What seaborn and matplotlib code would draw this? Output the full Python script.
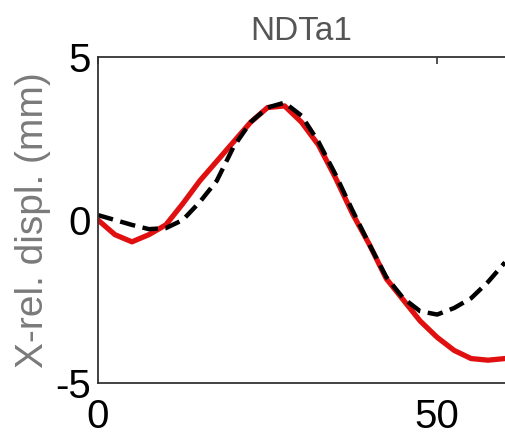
import matplotlib
matplotlib.use("Agg")
import matplotlib.pyplot as plt
import seaborn as sns
import pandas as pd

x_vals = [0, 2.5, 5, 7.5, 10, 12.5, 15, 17.5, 20, 22.5, 25, 27.5, 30, 32.5, 35,
          37.5, 40, 42.5, 45, 47.5, 50, 52.5, 55, 57.5, 60]
red_vals = [0.0, -0.45, -0.67, -0.45, -0.15, 0.5, 1.2, 1.8, 2.4, 3.0, 3.45, 3.5,
            3.0, 2.3, 1.3, 0.2, -0.75, -1.8, -2.45, -3.1, -3.6, -4.0, -4.25, -4.3, -4.25]
black_vals = [0.15, 0.0, -0.15, -0.28, -0.25, 0.0, 0.55, 1.2, 2.25, 3.0, 3.45, 3.6,
              3.2, 2.4, 1.4, 0.3, -0.75, -1.75, -2.4, -2.8, -2.9, -2.7, -2.4, -1.9, -1.3]
title = "NDTa1"
ylabel = "X-rel. displ. (mm)"
yticks = [-5, 0, 5]
xticks = [0, 50]

sns.set_style("white")
plt.rcParams["font.family"] = ["Liberation Sans", "DejaVu Sans"]
plt.rcParams["axes.unicode_minus"] = False

df = pd.DataFrame({"x": x_vals, "red": red_vals, "black": black_vals})

fig = plt.figure(figsize=(5.05, 4.36), dpi=100)
ax = fig.add_axes([98 / 505, (436 - 383) / 436, 407 / 505, (383 - 57) / 436])

sns.lineplot(data=df, x="x", y="red", ax=ax, color="#e01010", linewidth=3.8)
sns.lineplot(data=df, x="x", y="black", ax=ax, color="black", linewidth=3.2)
ax.lines[-1].set_dashes([3.5, 1.7])

ax.set_xlim(0, 60)
ax.set_ylim(-5, 5)
ax.set_xticks(xticks)
ax.set_yticks(yticks)
ax.set_xticklabels([str(v) for v in xticks])
ax.set_yticklabels([str(v) for v in yticks])
ax.tick_params(direction="in", length=5, width=1.2, colors="#333333",
               labelsize=29, labelcolor="black", top=True, right=False)
ax.tick_params(axis="x", pad=11)
ax.tick_params(axis="y", pad=5)
for s in ["left", "bottom", "top"]:
    ax.spines[s].set_color("#333333")
    ax.spines[s].set_linewidth(1.3)
ax.spines["right"].set_visible(False)

ax.set_xlabel("")
ax.set_ylabel(ylabel, fontsize=28, color="#7a7a7a", labelpad=3)
ax.set_title(title, fontsize=24, color="#555555", pad=12)

fig.savefig("out.png", dpi=100)
